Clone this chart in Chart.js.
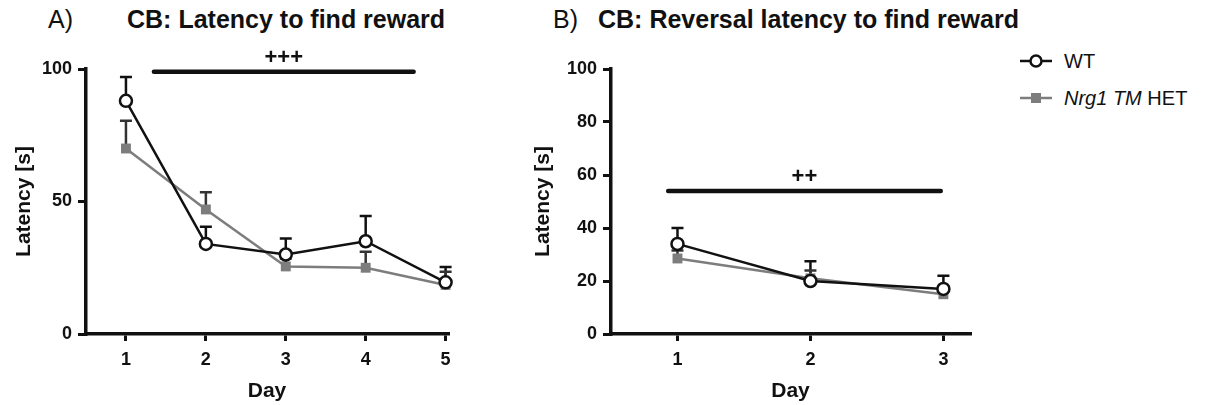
<!DOCTYPE html>
<html>
<head>
<meta charset="utf-8">
<script src="https://cdn.jsdelivr.net/npm/chart.js@4.4.1/dist/chart.umd.min.js"></script>
<style>
  body { margin: 0; width: 1207px; height: 405px; background: #fff; position: relative; overflow: hidden;
         font-family: Arial, "Liberation Sans", sans-serif; color: #111; }
  .panel { position: absolute; top: 0; width: 470px; height: 405px; }
  #panelA { left: 0; }
  #panelB { left: 520px; }
  .tag { position: absolute; top: 5px; font-size: 25px; }
  .title { position: absolute; top: 5px; font-size: 25px; font-weight: bold; white-space: nowrap; }
  .legend { position: absolute; left: 1018px; height: 24px; display: flex; align-items: center;
            font-size: 20px; white-space: nowrap; }
  .legend canvas { margin-right: 10px; }
</style>
</head>
<body>
<div class="tag" style="left:48px">A)</div>
<div class="title" style="left:127px">CB: Latency to find reward</div>
<div class="tag" style="left:553px">B)</div>
<div class="title" style="left:598px">CB: Reversal latency to find reward</div>

<div class="legend" style="top:49px"><canvas id="legWT" width="36" height="20"></canvas>WT</div>
<div class="legend" style="top:86px"><canvas id="legHET" width="36" height="20"></canvas><i>Nrg1 TM</i>&nbsp;HET</div>

<div class="panel" id="panelA"><canvas id="chartA"></canvas></div>
<div class="panel" id="panelB"><canvas id="chartB"></canvas></div>

<script>
// Panel A: acquisition, days 1-5
const daysA = [1, 2, 3, 4, 5]
const wtA = [88, 34, 30, 35, 19.5]
const wtAErr = [9, 6.5, 6, 9.5, 5.8]
const hetA = [70, 47, 25.5, 25, 18.5]
const hetAErr = [10.5, 6.5, 3, 6, 5]
const yTicksA = [0, 50, 100]
const sigA = { from: 1.35, to: 4.6, level: 99, label: '+++' }

// Panel B: reversal, days 1-3
const daysB = [1, 2, 3]
const wtB = [34, 20, 17]
const wtBErr = [6, 7.5, 5]
const hetB = [28.5, 21, 15]
const hetBErr = [3, 3, 3]
const yTicksB = [0, 20, 40, 60, 80, 100]
const sigB = { from: 0.93, to: 2.98, level: 54, label: '++' }

const INK = '#111111'
const HET_GREY = '#7d7d7d'

// upper-only error bars, drawn under the markers
const errorBars = {
  id: 'errorBars',
  beforeDatasetsDraw(chart) {
    const { ctx, scales: { x, y } } = chart
    ctx.save()
    chart.data.datasets.forEach(ds => {
      ctx.strokeStyle = ds.errColor
      ctx.lineWidth = 2.5
      ds.data.forEach((p, i) => {
        const px = x.getPixelForValue(p.x)
        const py = y.getPixelForValue(p.y)
        const top = y.getPixelForValue(p.y + ds.errors[i])
        ctx.beginPath()
        ctx.moveTo(px, py)
        ctx.lineTo(px, top)
        ctx.moveTo(px - 6, top)
        ctx.lineTo(px + 6, top)
        ctx.stroke()
      })
    })
    ctx.restore()
  }
}

// significance bar with the "+" label above it
const sigBar = {
  id: 'sigBar',
  afterDatasetsDraw(chart, args, opts) {
    const { ctx, scales: { x, y } } = chart
    const py = y.getPixelForValue(opts.level)
    const x1 = x.getPixelForValue(opts.from)
    const x2 = x.getPixelForValue(opts.to)
    ctx.save()
    ctx.strokeStyle = INK
    ctx.lineWidth = 4.5
    ctx.lineCap = 'round'
    ctx.beginPath()
    ctx.moveTo(x1, py)
    ctx.lineTo(x2, py)
    ctx.stroke()
    ctx.fillStyle = INK
    ctx.font = 'bold 22px Arial'
    ctx.textAlign = 'center'
    ctx.textBaseline = 'bottom'
    ctx.fillText(opts.label, (x1 + x2) / 2, py - 3)
    ctx.restore()
  }
}

function toPoints(days, values) {
  return days.map((d, i) => ({ x: d, y: values[i] }))
}

function createLatencyChart(canvasId, cfg) {
  const ctx = document.getElementById(canvasId)
  if (!ctx) return

  new Chart(ctx, {
    type: 'line',
    data: {
      datasets: [
        {
          label: 'WT',
          data: toPoints(cfg.days, cfg.wt),
          errors: cfg.wtErr,
          errColor: INK,
          borderColor: INK,
          borderWidth: 2.5,
          pointStyle: 'circle',
          pointRadius: 6,
          pointBackgroundColor: '#ffffff',
          pointBorderColor: INK,
          pointBorderWidth: 2.5,
          clip: false
        },
        {
          label: 'Nrg1 TM HET',
          data: toPoints(cfg.days, cfg.het),
          errors: cfg.hetErr,
          errColor: '#333333',
          borderColor: HET_GREY,
          borderWidth: 2.5,
          pointStyle: 'rect',
          pointRadius: 7,
          pointBackgroundColor: HET_GREY,
          pointBorderColor: HET_GREY,
          pointBorderWidth: 0,
          clip: false
        }
      ]
    },
    options: {
      responsive: true,
      maintainAspectRatio: false,
      animation: false,
      layout: { padding: { top: 69, left: 0, right: cfg.padRight, bottom: 1 } },
      plugins: {
        legend: { display: false },
        tooltip: { enabled: false },
        sigBar: cfg.sig
      },
      scales: {
        x: {
          type: 'linear',
          min: 0.5,
          max: cfg.xMax,
          afterFit: s => { s.height = 70 },
          afterBuildTicks: s => { s.ticks = cfg.days.map(v => ({ value: v })) },
          border: { display: true, color: INK, width: 3.5 },
          grid: { drawOnChartArea: false, drawTicks: true, tickLength: 7, color: INK, lineWidth: 3 },
          ticks: { color: INK, font: { family: 'Arial', size: 18, weight: 'bold' }, padding: 8 },
          title: { display: true, text: 'Day', color: INK, font: { family: 'Arial', size: 21, weight: 'bold' }, padding: { top: 4, bottom: 0 } }
        },
        y: {
          min: 0,
          max: 100,
          afterFit: s => { s.width = cfg.yWidth },
          afterBuildTicks: s => { s.ticks = cfg.yTicks.map(v => ({ value: v })) },
          border: { display: true, color: INK, width: 3.5 },
          grid: { drawOnChartArea: false, drawTicks: true, tickLength: 8, color: INK, lineWidth: 3 },
          ticks: { color: INK, font: { family: 'Arial', size: 18, weight: 'bold' }, padding: 6 },
          title: { display: true, text: 'Latency [s]', color: INK, font: { family: 'Arial', size: 21, weight: 'bold' }, padding: cfg.titlePad }
        }
      }
    },
    plugins: [errorBars, sigBar]
  })
}

createLatencyChart('chartA', {
  days: daysA, wt: wtA, wtErr: wtAErr, het: hetA, hetErr: hetAErr,
  yTicks: yTicksA, sig: sigA, xMax: 5.03, padRight: 22, yWidth: 86, titlePad: 12
})

createLatencyChart('chartB', {
  days: daysB, wt: wtB, wtErr: wtBErr, het: hetB, hetErr: hetBErr,
  yTicks: yTicksB, sig: sigB, xMax: 3.2, padRight: 20, yWidth: 91, titlePad: 11
})

// small legend swatches
function drawSwatch(id, color, style) {
  const c = document.getElementById(id).getContext('2d')
  c.strokeStyle = color
  c.lineWidth = 2.5
  c.beginPath()
  c.moveTo(2, 10)
  c.lineTo(34, 10)
  c.stroke()
  if (style === 'circle') {
    c.fillStyle = '#fff'
    c.beginPath()
    c.arc(18, 10, 5.5, 0, Math.PI * 2)
    c.fill()
    c.stroke()
  } else {
    c.fillStyle = color
    c.fillRect(13, 5, 10, 10)
  }
}
drawSwatch('legWT', INK, 'circle')
drawSwatch('legHET', HET_GREY, 'rect')
</script>
</body>
</html>
